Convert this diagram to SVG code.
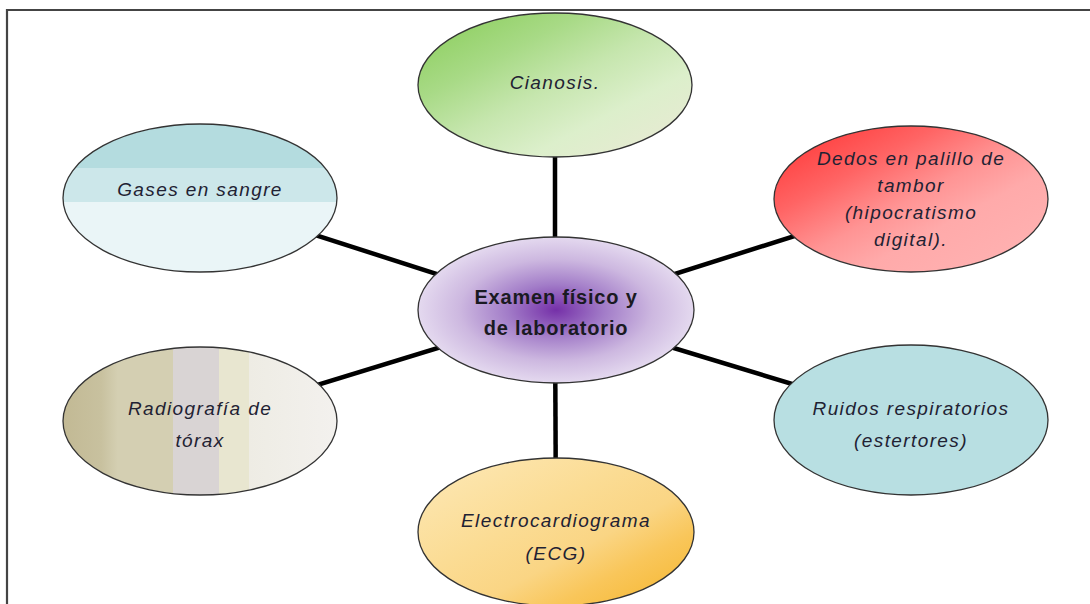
<svg xmlns="http://www.w3.org/2000/svg" width="1090" height="604" viewBox="0 0 1090 604">
<defs>
<linearGradient id="gGreen" x1="0" y1="0" x2="1" y2="1">
<stop offset="0" stop-color="#86cc55"/>
<stop offset="0.3" stop-color="#a8da86"/>
<stop offset="0.5" stop-color="#c6e6ae"/>
<stop offset="0.7" stop-color="#dcefcb"/>
<stop offset="1" stop-color="#ece8d6"/>
</linearGradient>
<linearGradient id="gRed" x1="0" y1="0" x2="1" y2="1">
<stop offset="0" stop-color="#ff2e2e"/>
<stop offset="0.3" stop-color="#ff6464"/>
<stop offset="0.5" stop-color="#ff9494"/>
<stop offset="0.65" stop-color="#ffaaaa"/>
<stop offset="1" stop-color="#ffb4b4"/>
</linearGradient>
<linearGradient id="gGases" x1="0" y1="0" x2="0" y2="1">
<stop offset="0" stop-color="#b4dcdf"/>
<stop offset="0.3" stop-color="#b4dcdf"/>
<stop offset="0.3" stop-color="#cce7ea"/>
<stop offset="0.53" stop-color="#cce7ea"/>
<stop offset="0.53" stop-color="#eaf5f7"/>
<stop offset="1" stop-color="#eaf5f7"/>
</linearGradient>
<linearGradient id="gRadio" x1="0" y1="0" x2="1" y2="0">
<stop offset="0" stop-color="#c2b994"/>
<stop offset="0.14" stop-color="#c8c19f"/>
<stop offset="0.2" stop-color="#d4cfb2"/>
<stop offset="0.4" stop-color="#d4cfb2"/>
<stop offset="0.4" stop-color="#d9d4d4"/>
<stop offset="0.57" stop-color="#d9d4d4"/>
<stop offset="0.57" stop-color="#e8e6d0"/>
<stop offset="0.68" stop-color="#e8e6d0"/>
<stop offset="0.68" stop-color="#eeece4"/>
<stop offset="1" stop-color="#f3f1ee"/>
</linearGradient>
<linearGradient id="gOrange" x1="0" y1="0" x2="1" y2="1">
<stop offset="0" stop-color="#fde9b8"/>
<stop offset="0.4" stop-color="#fbdc94"/>
<stop offset="0.6" stop-color="#fad584"/>
<stop offset="0.75" stop-color="#f9c65a"/>
<stop offset="1" stop-color="#f5b52a"/>
</linearGradient>
<radialGradient id="gPurple" cx="0.5" cy="0.5" r="0.5">
<stop offset="0" stop-color="#7530a8"/>
<stop offset="0.35" stop-color="#a27cc8"/>
<stop offset="0.7" stop-color="#cdb8e0"/>
<stop offset="1" stop-color="#e4d9ef"/>
</radialGradient>
<style>
.node ellipse { stroke: #333; stroke-width: 1.3; }
.lbl { font-family: "Liberation Sans", Arial, sans-serif; font-size: 19px; letter-spacing: 1.4px; font-style: italic; fill: #1f2233; text-anchor: middle; }
.ctr { font-family: "Liberation Sans", Arial, sans-serif; font-size: 20px; letter-spacing: 0.8px; font-weight: bold; fill: #1a1a22; text-anchor: middle; }
.conn line { stroke: #000; stroke-width: 4.5; }
</style>
</defs>
<rect x="0" y="0" width="1090" height="604" fill="#fff"/>
<path d="M7 610 V10 H1095" fill="none" stroke="#444" stroke-width="2.2"/>
<g id="connectors" class="conn">
<line x1="555" y1="312" x2="555" y2="84"/>
<line x1="555" y1="312" x2="200" y2="198"/>
<line x1="555" y1="312" x2="911" y2="199"/>
<line x1="555" y1="312" x2="200" y2="421"/>
<line x1="555" y1="312" x2="911" y2="420"/>
<line x1="555" y1="312" x2="556" y2="532"/>
</g>
<g id="cianosis" class="node">
<ellipse cx="555" cy="85" rx="137" ry="72" fill="url(#gGreen)"/>
<text class="lbl" x="555" y="89">Cianosis.</text>
</g>
<g id="gases" class="node">
<ellipse cx="200" cy="198" rx="137" ry="74" fill="url(#gGases)"/>
<text class="lbl" x="200" y="196">Gases en sangre</text>
</g>
<g id="dedos" class="node">
<ellipse cx="911" cy="199" rx="137" ry="73" fill="url(#gRed)"/>
<text class="lbl" x="911" y="165">Dedos en palillo de</text>
<text class="lbl" x="911" y="192">tambor</text>
<text class="lbl" x="911" y="219">(hipocratismo</text>
<text class="lbl" x="911" y="246">digital).</text>
</g>
<g id="radiografia" class="node">
<ellipse cx="200" cy="421" rx="137" ry="74" fill="url(#gRadio)"/>
<text class="lbl" x="200" y="415">Radiografía de</text>
<text class="lbl" x="200" y="447">tórax</text>
</g>
<g id="ruidos" class="node">
<ellipse cx="911" cy="420" rx="137" ry="75" fill="#b8dfe2"/>
<text class="lbl" x="911" y="415">Ruidos respiratorios</text>
<text class="lbl" x="911" y="447">(estertores)</text>
</g>
<g id="ecg" class="node">
<ellipse cx="556" cy="532" rx="138" ry="74" fill="url(#gOrange)"/>
<text class="lbl" x="556" y="527">Electrocardiograma</text>
<text class="lbl" x="556" y="560">(ECG)</text>
</g>
<g id="centro" class="node">
<ellipse cx="556" cy="310" rx="138" ry="73" fill="url(#gPurple)"/>
<text class="ctr" x="556" y="304">Examen físico y</text>
<text class="ctr" x="556" y="335">de laboratorio</text>
</g>
</svg>
